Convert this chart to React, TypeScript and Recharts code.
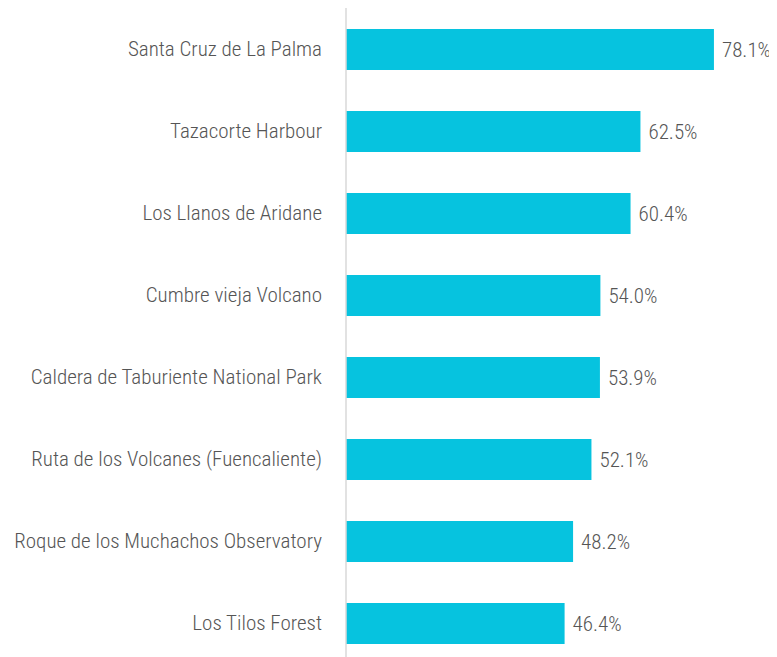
import { BarChart, Bar, XAxis, YAxis, LabelList } from "recharts";

const places = [
  "Santa Cruz de La Palma",
  "Tazacorte Harbour",
  "Los Llanos de Aridane",
  "Cumbre vieja Volcano",
  "Caldera de Taburiente National Park",
  "Ruta de los Volcanes (Fuencaliente)",
  "Roque de los Muchachos Observatory",
  "Los Tilos Forest",
];

const shares = [78.1, 62.5, 60.4, 54.0, 53.9, 52.1, 48.2, 46.4];

const data = places.map((name, i) => ({ name, value: shares[i] }));

const FONT = '"Roboto Condensed", "DejaVu Sans Condensed", sans-serif';
const TEXT = "#555555";
const BAR = "#06C3DF";

export default function App() {
  return (
    <div style={{ fontFamily: FONT }}>
      <BarChart
        width={769}
        height={656}
        data={data}
        layout="vertical"
        margin={{ top: 0, right: 7, bottom: 0, left: 0 }}
        barSize={41}
      >
        <XAxis type="number" domain={[0, 90]} hide />
        <YAxis
          type="category"
          dataKey="name"
          width={338}
          tickLine={false}
          tickMargin={18}
          axisLine={{ stroke: "#d9d9d9", strokeWidth: 1.5 }}
          tick={{ fill: TEXT, fontSize: 21, fontFamily: FONT, fontWeight: 300 }}
        />
        <Bar dataKey="value" fill={BAR} isAnimationActive={false}>
          <LabelList
            dataKey="value"
            position="right"
            offset={8}
            formatter={(v: any) => `${Number(v).toFixed(1)}%`}
            style={{ fill: TEXT, fontSize: 21, fontFamily: FONT, fontWeight: 300 }}
          />
        </Bar>
      </BarChart>
    </div>
  );
}
